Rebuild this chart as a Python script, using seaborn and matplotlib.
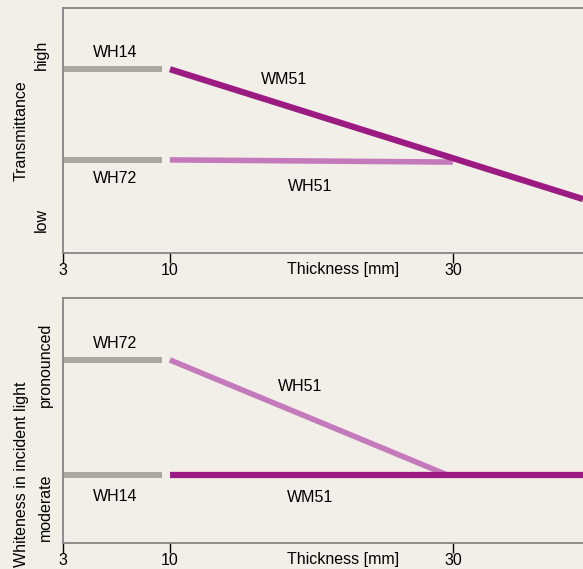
import numpy as np
import seaborn as sns
import matplotlib.pyplot as plt

# thickness axis (mm) and schematic levels (0 = bottom, 1 = top of panel)
thickness_ticks = [3, 10, 30]
x_max = 39.2

# top panel: transmittance
t_wh14_x = [3, 9.5]
t_wh14_y = [0.75, 0.75]
t_wh72_x = [3, 9.5]
t_wh72_y = [0.38, 0.38]
t_wm51_x = [10, 39.2]
t_wm51_y = [0.75, 0.22]
t_wh51_x = [10, 30]
t_wh51_y = [0.38, 0.371]
t_levels = [0.135, 0.81]
t_level_labels = ["low", "high"]

# bottom panel: whiteness in incident light
w_wh72_x = [3, 9.5]
w_wh72_y = [0.747, 0.747]
w_wh14_x = [3, 9.5]
w_wh14_y = [0.278, 0.278]
w_wh51_x = [10, 29.6]
w_wh51_y = [0.747, 0.278]
w_wm51_x = [10, 39.2]
w_wm51_y = [0.278, 0.278]
w_levels = [0.147, 0.727]
w_level_labels = ["moderate", "pronounced"]

BG = "#f2efe8"
GREY = "#aaa7a0"
DARK = "#9b1b82"
LIGHT = "#c47aba"
SPINE = "#858585"

sns.set_theme(style="white", rc={
    "figure.facecolor": BG,
    "axes.facecolor": BG,
    "axes.edgecolor": SPINE,
    "axes.linewidth": 1.3,
    "text.color": "black",
    "axes.labelcolor": "black",
    "xtick.color": "black",
    "ytick.color": "black",
})
plt.rcParams["font.family"] = ["Liberation Sans", "DejaVu Sans"]
FS = 11.5


# the reference axis is stretched a little more between 3 and 10 than above 10
def fwd(x):
    x = np.asarray(x, dtype=float)
    return np.where(x < 10, (x - 3) * 107 / 7, 107 + (x - 10) * 283 / 20)


def inv(p):
    p = np.asarray(p, dtype=float)
    return np.where(p < 107, 3 + p * 7 / 107, 10 + (p - 107) * 20 / 283)


fig = plt.figure(figsize=(5.83, 5.69), dpi=100)
ax1 = fig.add_axes([0.108, 0.5554, 0.892, 0.4306])
ax2 = fig.add_axes([0.108, 0.0457, 0.892, 0.4306])


def seg(ax, x, y, color, lw):
    sns.lineplot(x=x, y=y, ax=ax, color=color, linewidth=lw,
                 solid_capstyle="butt", clip_on=True)


seg(ax1, t_wh14_x, t_wh14_y, GREY, 4.3)
seg(ax1, t_wh72_x, t_wh72_y, GREY, 4.3)
seg(ax1, t_wh51_x, t_wh51_y, LIGHT, 4)
seg(ax1, t_wm51_x, t_wm51_y, DARK, 4.5)

seg(ax2, w_wh72_x, w_wh72_y, GREY, 4.3)
seg(ax2, w_wh14_x, w_wh14_y, GREY, 4.3)
seg(ax2, w_wh51_x, w_wh51_y, LIGHT, 4)
seg(ax2, w_wm51_x, w_wm51_y, DARK, 4.5)

# series labels
ax1.text(6.4, 0.82, "WH14", fontsize=FS, ha="center", va="center")
ax1.text(6.4, 0.302, "WH72", fontsize=FS, ha="center", va="center")
ax1.text(18.1, 0.706, "WM51", fontsize=FS, ha="center", va="center")
ax1.text(19.9, 0.273, "WH51", fontsize=FS, ha="center", va="center")

ax2.text(6.4, 0.816, "WH72", fontsize=FS, ha="center", va="center")
ax2.text(6.4, 0.188, "WH14", fontsize=FS, ha="center", va="center")
ax2.text(19.2, 0.637, "WH51", fontsize=FS, ha="center", va="center")
ax2.text(19.9, 0.184, "WM51", fontsize=FS, ha="center", va="center")

for ax, levels, labels, ylab, ycen, pad in [
    (ax1, t_levels, t_level_labels, "Transmittance", 0.5, 10),
    (ax2, w_levels, w_level_labels, "Whiteness in incident light", 0.28, 7),
]:
    ax.set_xscale("function", functions=(fwd, inv))
    ax.set_xlim(3, x_max)
    ax.set_ylim(0, 1)
    ax.set_xticks(thickness_ticks)
    ax.set_xticklabels([str(t) for t in thickness_ticks], fontsize=FS)
    ax.set_yticks(levels)
    ax.set_yticklabels(labels, fontsize=FS, rotation=90, va="center")
    ax.tick_params(axis="y", length=0, pad=pad)
    ax.tick_params(axis="x", direction="out", length=7, width=1,
                   color="black", pad=0.5, bottom=True)
    ax.spines["right"].set_visible(False)
    ax.set_xlabel("Thickness [mm]", fontsize=FS, va="top")
    ax.xaxis.set_label_coords(0.538, -0.035)
    ax.set_ylabel(ylab, fontsize=FS, va="center")
    ax.yaxis.set_label_coords(-0.08, ycen)

fig.savefig("out.png", dpi=100, facecolor=BG)
